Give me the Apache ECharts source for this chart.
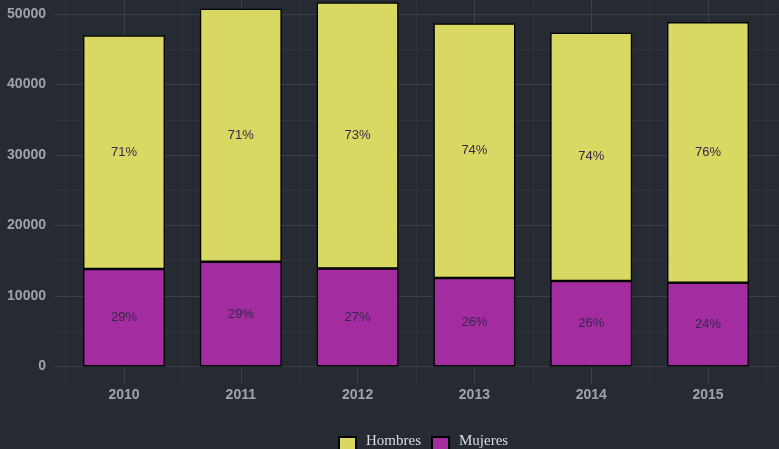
<!DOCTYPE html>
<html>
<head>
<meta charset="utf-8">
<script src="https://cdn.jsdelivr.net/npm/echarts@6/dist/echarts.min.js"></script>
<style>
  html, body { margin: 0; background: #252a33; }
  #chart { width: 779px; height: 449px; }
</style>
</head>
<body>
<div id="chart"></div>
<script>
const years = ['2010', '2011', '2012', '2013', '2014', '2015']
const hombres = [33150, 35900, 37750, 36120, 35230, 36980]
const mujeres = [13820, 14850, 13900, 12540, 12120, 11880]
const pctHombres = ['71%', '71%', '73%', '74%', '74%', '76%']
const pctMujeres = ['29%', '29%', '27%', '26%', '26%', '24%']

const major = '#3a3f49'
const minor = '#2f343d'
const none = 'rgba(0,0,0,0)'

const chart = echarts.init(document.getElementById('chart'))

// grid 0 = panel background (gridlines + y labels), grid 1 = bars
const yMin = -2500, yMax = 52000

const pctLabel = (arr) => ({
  show: true,
  position: 'inside',
  color: '#35284a',
  fontFamily: 'Liberation Sans, Arial, sans-serif',
  fontSize: 13,
  formatter: (p) => arr[p.dataIndex],
})

chart.setOption({
  backgroundColor: '#252a33',
  animation: false,
  grid: [
    { left: 54, right: 1, top: 0, bottom: 65 },
    { left: 65.6, right: 12.6, top: 0, bottom: 65 },
  ],
  legend: {
    data: ['Hombres', 'Mujeres'],
    icon: 'rect',
    left: 338,
    top: 434,
    padding: 0,
    itemWidth: 17,
    itemHeight: 17,
    itemGap: 10,
    formatter: '{t|{name}}',
    textStyle: {
      color: '#dcdcdc', fontFamily: 'Liberation Serif, serif', fontSize: 15,
      rich: {
        t: {
          color: '#dcdcdc', fontFamily: 'Liberation Serif, serif', fontSize: 15,
          padding: [0, 0, 8, 5],
        },
      },
    },
  },
  xAxis: [
    {
      // tenths of a category step: centres at 6, 16, ... boundaries at 1, 11, ...
      type: 'value', gridIndex: 0, min: 0, max: 62, interval: 1,
      axisLine: { show: false }, axisTick: { show: false }, axisLabel: { show: false },
      splitLine: {
        show: true,
        lineStyle: { width: 1, color: [none, minor, none, none, none, none, major, none, none, none] },
      },
    },
    {
      type: 'category', gridIndex: 1, data: years,
      axisLine: { show: false }, axisTick: { show: false },
      splitLine: { show: false },
      axisLabel: {
        color: '#a0a3a8', fontWeight: 'bold', fontSize: 14,
        fontFamily: 'Liberation Sans, Arial, sans-serif', margin: 4,
      },
    },
  ],
  yAxis: [
    {
      type: 'value', gridIndex: 0, min: yMin, max: yMax, interval: 2500,
      axisLine: { show: false }, axisTick: { show: false },
      axisLabel: {
        color: '#a0a3a8', fontWeight: 'bold', fontSize: 14, margin: 8,
        fontFamily: 'Liberation Sans, Arial, sans-serif',
        showMinLabel: false, showMaxLabel: false,
        formatter: (v) => (v >= 0 && v % 10000 === 0 ? String(v) : ''),
      },
      splitLine: { show: true, lineStyle: { width: 1, color: [none, major, none, minor] } },
    },
    {
      type: 'value', gridIndex: 1, min: yMin, max: yMax, show: false,
      splitLine: { show: false },
    },
  ],
  series: [
    {
      name: 'Mujeres', type: 'bar', stack: 'total', xAxisIndex: 1, yAxisIndex: 1,
      barWidth: '70%', data: mujeres,
      itemStyle: { color: '#a32da0', borderColor: '#000', borderWidth: 1.3 },
      label: pctLabel(pctMujeres),
    },
    {
      name: 'Hombres', type: 'bar', stack: 'total', xAxisIndex: 1, yAxisIndex: 1,
      barWidth: '70%', data: hombres,
      itemStyle: { color: '#d8d862', borderColor: '#000', borderWidth: 1.3 },
      label: pctLabel(pctHombres),
    },
  ],
})
</script>
</body>
</html>
